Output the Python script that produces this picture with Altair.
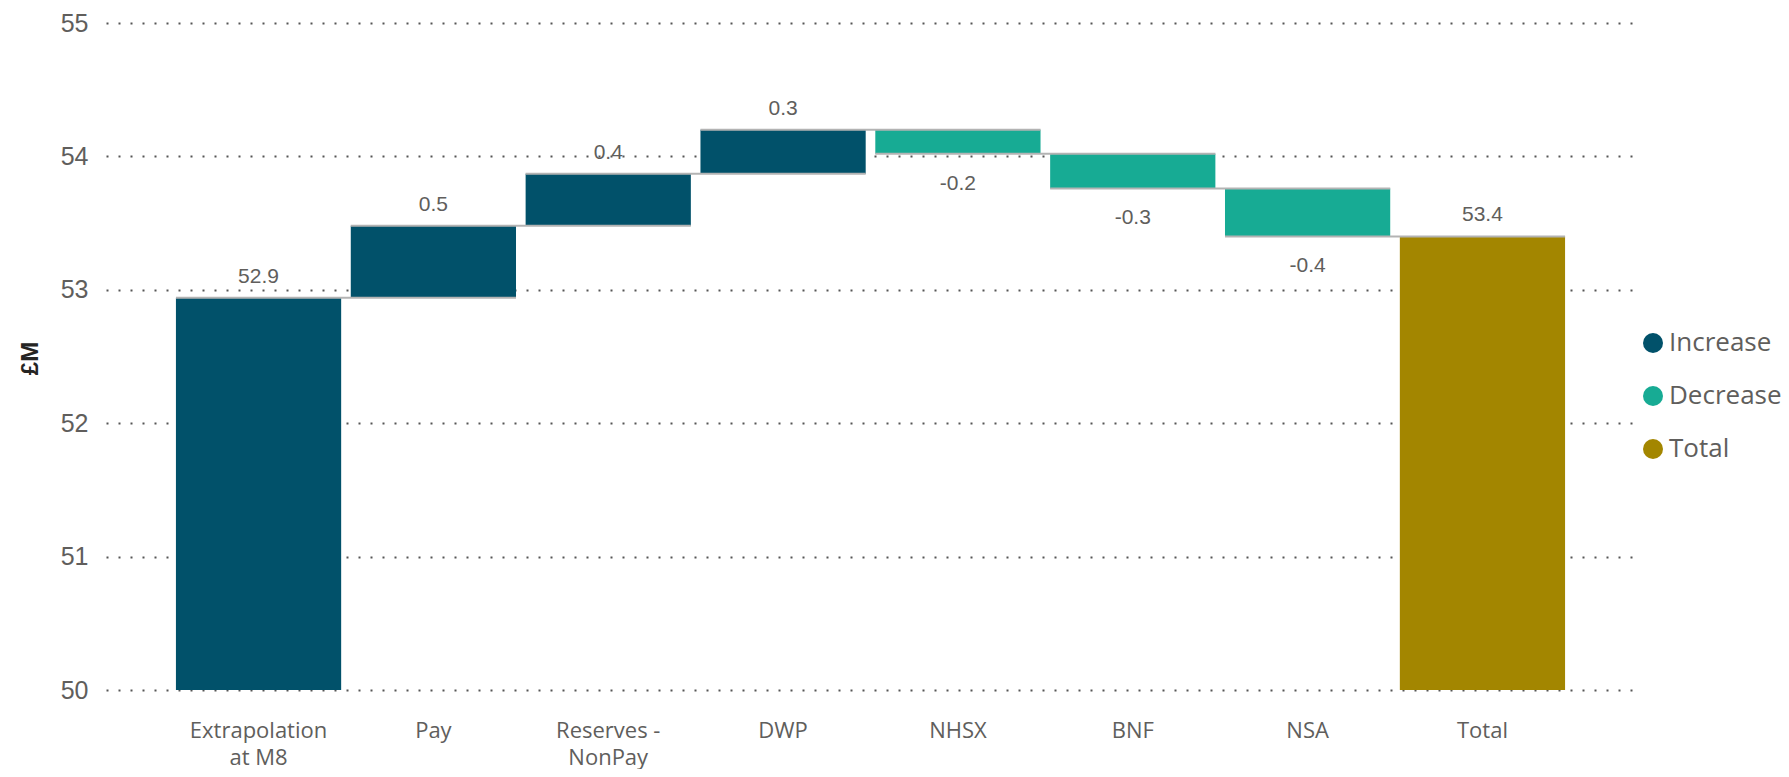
import altair as alt
import pandas as pd

categories = ["Extrapolation at M8", "Pay", "Reserves - NonPay", "DWP", "NHSX", "BNF", "NSA", "Total"]
values = [52.94, 0.54, 0.39, 0.33, -0.18, -0.26, -0.36, 53.40]
kinds = ["Increase", "Increase", "Increase", "Increase", "Decrease", "Decrease", "Decrease", "Total"]

kind_domain = ["Increase", "Decrease", "Total"]
kind_colors = ["#01516A", "#17AB94", "#A38600"]

# build waterfall table
rows = []
level = 0.0
for i, (c, v, k) in enumerate(zip(categories, values, kinds)):
    if i == 0 or k == "Total":
        start, end = 0.0, v
    else:
        start, end = level, level + v
    level = end
    pos = "below" if k == "Decrease" else "above"
    rows.append({"cat": c, "value": v, "label": f"{v:.1f}", "kind": k,
                 "start": start, "end": end, "pos": pos})
df = pd.DataFrame(rows)

conn = pd.DataFrame([
    {"c1": categories[i], "c2": categories[i + 1], "lvl": rows[i]["end"]}
    for i in range(len(categories) - 1)
])

label_expr = ("datum.label == 'Extrapolation at M8' ? ['Extrapolation', 'at M8'] : "
              "datum.label == 'Reserves - NonPay' ? ['Reserves -', 'NonPay'] : datum.label")

xscale = alt.Scale(domain=categories, paddingInner=0.055, paddingOuter=0.4)
yscale = alt.Scale(domain=[50, 55])

x_enc = alt.X("cat:N", sort=categories, scale=xscale,
              axis=alt.Axis(title=None, labelAngle=0, domain=False, ticks=False,
                            labelPadding=30, labelFont="Open Sans", labelFontSize=22,
                            labelColor="#605E5C", labelLineHeight=27, labelBaseline="top",
                            labelExpr=label_expr, grid=False))

bars = alt.Chart(df).mark_bar(clip=True).encode(
    x=x_enc,
    y=alt.Y("start:Q", scale=yscale,
            axis=alt.Axis(title="£M", values=[50, 51, 52, 53, 54, 55], format="d",
                          domain=False, ticks=False, labelPadding=18,
                          labelFont="Liberation Sans", labelFontSize=25, labelColor="#605E5C",
                          grid=True, gridDash=[2, 10], gridColor="#555555", gridWidth=2,
                          titleFont="Liberation Sans", titleFontSize=24, titleFontWeight="bold",
                          titleColor="#252423", titleAngle=270, titleX=-76, titleY=335,
                          titleAlign="center", titleBaseline="middle")),
    y2="end:Q",
    color=alt.Color("kind:N", scale=alt.Scale(domain=kind_domain, range=kind_colors),
                    legend=alt.Legend(title=None, orient="none", legendX=1534, legendY=307,
                                      symbolType="circle", symbolSize=400, symbolStrokeWidth=0,
                                      labelFont="Open Sans", labelFontSize=26,
                                      labelColor="#605E5C", labelOffset=3, rowPadding=27,
                                      padding=0)),
)

rules = alt.Chart(conn).mark_rule(color="#B3B3B3", strokeWidth=2).encode(
    x=alt.X("c1:N", sort=categories, scale=xscale, bandPosition=0),
    x2=alt.X2("c2:N", bandPosition=1),
    y=alt.Y("lvl:Q", scale=yscale),
)

above = alt.Chart(df).transform_filter("datum.pos == 'above'").mark_text(
    baseline="alphabetic", dy=-15, font="Liberation Sans", fontSize=21, color="#605E5C"
).encode(
    x=alt.X("cat:N", sort=categories, scale=xscale, bandPosition=0.5),
    y=alt.Y("end:Q", scale=yscale),
    text="label:N",
)

below = alt.Chart(df).transform_filter("datum.pos == 'below'").mark_text(
    baseline="alphabetic", dy=36, font="Liberation Sans", fontSize=21, color="#605E5C"
).encode(
    x=alt.X("cat:N", sort=categories, scale=xscale, bandPosition=0.5),
    y=alt.Y("end:Q", scale=yscale),
    text="label:N",
)

chart = alt.layer(bars, rules, above, below).properties(
    width=1529, height=667,
    autosize=alt.AutoSizeParams(type="none"),
    padding={"left": 98, "top": 15, "right": 146, "bottom": 79},
).configure_view(stroke=None)

chart.save("out.html", embed_options={"renderer": "svg", "actions": False})
